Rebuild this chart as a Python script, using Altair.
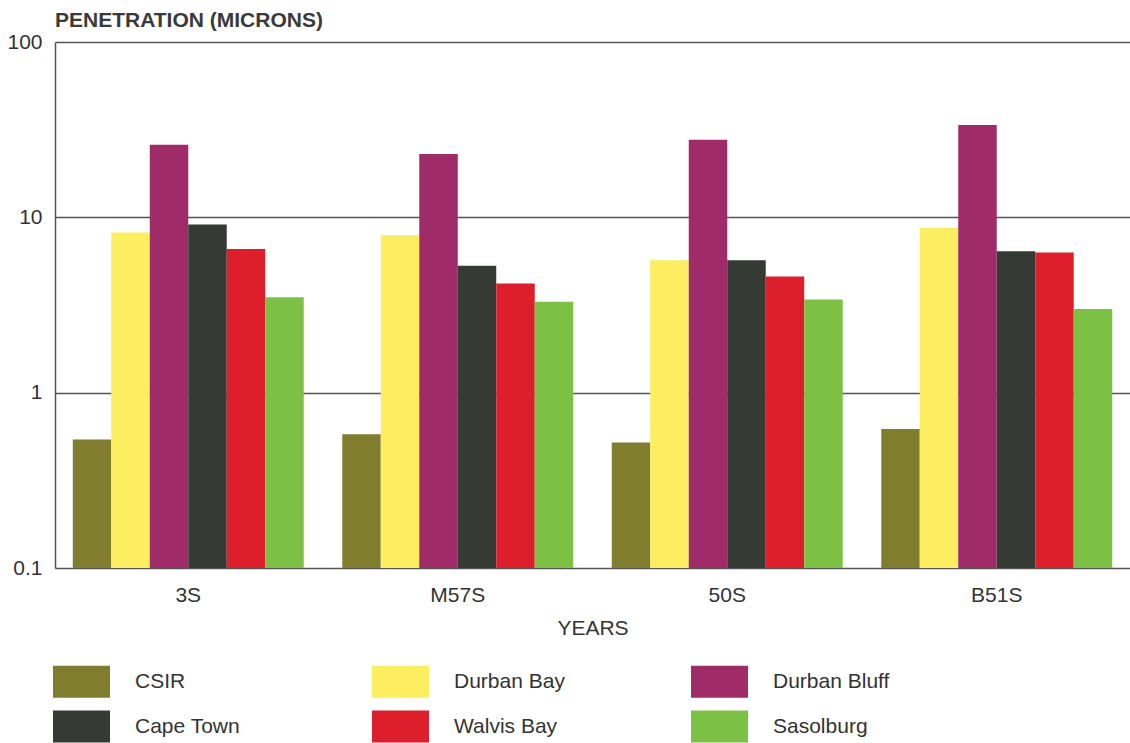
import altair as alt
import pandas as pd

years = ["3S", "M57S", "50S", "B51S"]
sites = ["CSIR", "Durban Bay", "Durban Bluff", "Cape Town", "Walvis Bay", "Sasolburg"]
csir = [0.54, 0.58, 0.52, 0.62]
durban_bay = [8.2, 7.9, 5.7, 8.7]
durban_bluff = [25.9, 23.0, 27.7, 33.6]
cape_town = [9.1, 5.3, 5.7, 6.4]
walvis_bay = [6.6, 4.2, 4.6, 6.3]
sasolburg = [3.5, 3.3, 3.4, 3.0]
colors = ["#807d2e", "#fcee60", "#9f2b68", "#363a35", "#dd1f2b", "#7dc144"]

series = [csir, durban_bay, durban_bluff, cape_town, walvis_bay, sasolburg]
rows = []
for site, vals in zip(sites, series):
    for yr, v in zip(years, vals):
        rows.append({"year": yr, "site": site, "value": v})
df = pd.DataFrame(rows)

FONT = "Liberation Sans"
TXT = "#333333"

chart = alt.Chart(df).mark_bar().encode(
    x=alt.X("year:N", sort=years,
            scale=alt.Scale(paddingInner=0.143, paddingOuter=0.066),
            axis=alt.Axis(title="YEARS", labelAngle=0, ticks=False, domain=False,
                          labelFontSize=21, labelPadding=16, labelColor=TXT,
                          titleFontSize=21, titleFontWeight="normal", titleColor=TXT,
                          titlePadding=12, labelFont=FONT, titleFont=FONT)),
    xOffset=alt.XOffset("site:N", sort=sites, scale=alt.Scale(paddingInner=0, paddingOuter=0)),
    y=alt.Y("value:Q",
            scale=alt.Scale(type="log", domain=[0.1, 100]),
            axis=alt.Axis(title=None, values=[0.1, 1, 10, 100], format="~g",
                          ticks=False, labelFontSize=21, labelPadding=13, labelColor=TXT,
                          labelFont=FONT, grid=True, gridColor="#555555", gridWidth=1.5,
                          domainColor="#555555", domainWidth=1.5)),
    y2=alt.datum(0.1),
    color=alt.Color("site:N", sort=sites,
                    scale=alt.Scale(domain=sites, range=colors),
                    legend=alt.Legend(title=None, orient="none", legendX=-2, legendY=611,
                                      columns=3, direction="horizontal",
                                      symbolType="M-1,-0.56H1V0.56H-1Z",
                                      symbolSize=3249, symbolStrokeWidth=0,
                                      symbolOpacity=1,
                                      labelFontSize=21, labelFont=FONT, labelColor=TXT,
                                      labelOffset=25, rowPadding=-15, columnPadding=120,
                                      gridAlign="all", padding=0, labelLimit=300)),
).properties(
    width=1075,
    height=526,
    title=alt.TitleParams("PENETRATION (MICRONS)", anchor="start", frame="group",
                          dx=0, dy=23, offset=2, baseline="bottom",
                          font=FONT, fontSize=21, fontWeight="bold", color="#3a3a3a"),
    autosize=alt.AutoSizeParams(type="none"),
    padding={"left": 55, "top": 42, "right": 0, "bottom": 175},
).configure_view(stroke=None).configure_axisX(
    domain=True, domainColor="#555555", domainWidth=1.5
)

chart.save("out.html", embed_options={"renderer": "svg", "actions": False})
